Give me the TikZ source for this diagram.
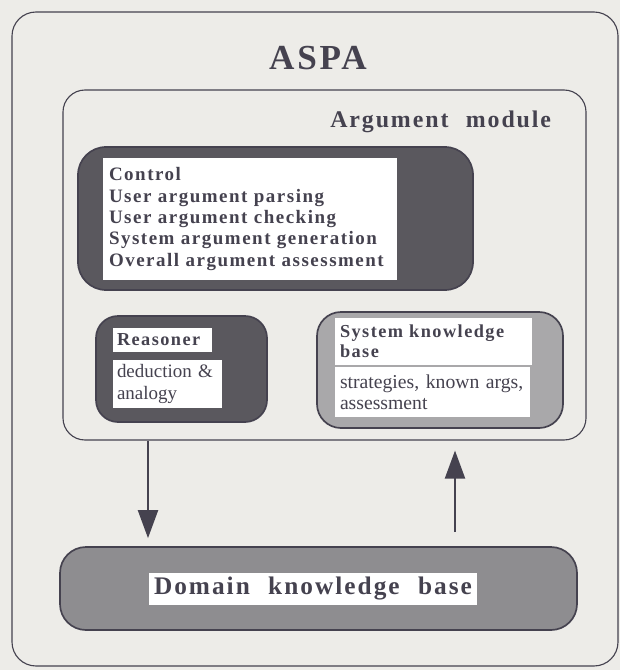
\documentclass[tikz,border=0pt]{standalone}
\usepackage{fontspec}
\setmainfont{Liberation Serif}
\newfontfamily\widefont[LetterSpace=8,WordSpace=2.2]{Liberation Serif}
\usetikzlibrary{arrows.meta}
\definecolor{ink}{HTML}{45424F}
\definecolor{paper}{HTML}{EDECE8}
\definecolor{darkdot}{HTML}{5A585E}
\definecolor{middot}{HTML}{8E8D90}
\definecolor{lightdot}{HTML}{A9A8AA}

\begin{document}
\begin{tikzpicture}
	[thick,text=ink,
	unit/.style={shape=rectangle,draw=ink,inner sep=0pt},
	whitebox/.style={shape=rectangle,fill=white,draw=none,align=left,inner ysep=0pt},
	flow/.style={-{Triangle[length=0.7cm,width=0.5cm]},draw=ink,line width=1.5pt}]
	\fill[paper] (0,0) rectangle (15.5,-16.75);
	\useasboundingbox (0,0) rectangle (15.5,-16.75);

	\node[unit,rounded corners=0.6cm,minimum width=15.15cm,minimum height=16.35cm] (aspa) at (7.875,-8.475) {};
	\node[font=\widefont\bfseries\fontsize{25}{30}\selectfont] (title) at (7.95,-1.46) {ASPA};

	\node[unit,rounded corners=0.55cm,minimum width=13.075cm,minimum height=8.75cm] (argmod) at (8.1125,-6.625) {};
	\node[anchor=base west,font=\widefont\bfseries\fontsize{17}{20}\selectfont] (argtitle) at (8.125,-3.2) {Argument module};

	% control part
	\node[unit,fill=darkdot,line width=1.2pt,rounded corners=0.7cm,minimum width=9.875cm,minimum height=3.575cm] (control) at (6.8875,-5.4625) {};
	\node[whitebox,inner xsep=0.15cm,text width=7.05cm,minimum height=3.05cm,
		font=\widefont\bfseries\fontsize{13.5}{15.2}\selectfont] (ctrltext) at (6.25,-5.475)
		{Control\\ User argument parsing\\ User argument checking\\ System argument generation\\ Overall argument assessment};

	% reasoner
	\node[unit,fill=darkdot,line width=1.2pt,rounded corners=0.55cm,minimum width=4.275cm,minimum height=2.65cm] (reasoner) at (4.5375,-9.225) {};
	\node[whitebox,inner xsep=0.1cm,text width=2.275cm,minimum height=0.6cm,
		font=\widefont\bfseries\fontsize{13}{15}\selectfont] (reastag) at (4.0625,-8.5) {Reasoner};
	\node[whitebox,inner xsep=0.1cm,text width=2.525cm,minimum height=1.2cm,
		font=\fontsize{13.5}{16}\selectfont] (reasbody) at (4.1875,-9.6) {deduction \&\\ analogy};

	% system knowledge base
	\node[unit,fill=lightdot,line width=1.2pt,rounded corners=0.6cm,minimum width=6.15cm,minimum height=2.9cm] (skb) at (11.0,-9.25) {};
	\node[whitebox,inner xsep=0.125cm,text width=4.675cm,minimum height=1.175cm,
		font=\widefont\bfseries\fontsize{13}{14.2}\selectfont] (skbtag) at (10.8375,-8.5375) {System knowledge\\ base};
	\node[whitebox,inner xsep=0.125cm,text width=4.625cm,minimum height=1.25cm,
		font=\fontsize{14}{15}\selectfont] (skbbody) at (10.8125,-9.8) {strategies, known args,\\ assessment};

	% domain knowledge base
	\node[unit,fill=middot,line width=1.2pt,rounded corners=0.65cm,minimum width=12.925cm,minimum height=2.075cm] (domain) at (7.9625,-14.7125) {};
	\node[whitebox,align=center,minimum width=8cm,minimum height=0.8cm,
		font=\widefont\bfseries\fontsize{18}{20}\selectfont] (domtag) at (7.825,-14.725) {Domain knowledge base};

	\coordinate (dn) at (3.7,0);
	\coordinate (up) at (11.375,0);
	\draw[flow,shorten >=0.2cm] (argmod.south -| dn) -- (domain.north -| dn);
	\draw[flow,shorten <=0.35cm,shorten >=0.25cm] (domain.north -| up) -- (argmod.south -| up);
\end{tikzpicture}
\end{document}
